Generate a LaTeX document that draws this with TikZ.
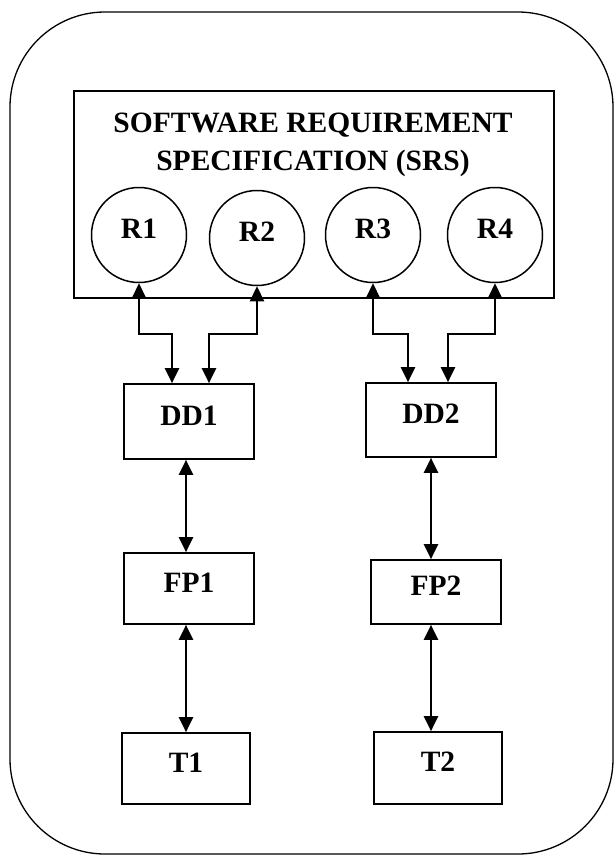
\documentclass[tikz,border=0pt]{standalone}
\usepackage{fontspec}
\setmainfont{Liberation Serif}
\usetikzlibrary{arrows.meta,calc}

\begin{document}
\begin{tikzpicture}[x=1pt, y=-1pt, >={Triangle[length=15pt,width=14pt]},
    every node/.style={font=\fontsize{29.5}{38}\selectfont\bfseries, inner sep=0pt},
    stage/.style={draw, line width=1.7pt, minimum width=130pt, text depth=12pt},
    req/.style={draw, circle, line width=1.5pt, minimum size=95pt, text depth=12pt},
    link/.style={<->, line width=2.2pt}]
  \useasboundingbox (0,0) rectangle (615,855);

  % 1. outer frame
  \draw[line width=1.3pt, rounded corners=95pt] (10,12) rectangle (613,854);

  % 2. SRS block with the four requirements
  \node[draw, line width=1.7pt, minimum width=480pt, minimum height=207pt] (srs) at (314,194.5) {};
  \node[anchor=north, align=center] (title) at (313,112.5) {SOFTWARE REQUIREMENT\\SPECIFICATION (SRS)};
  \node[req] (r1) at (139,235) {R1};
  \node[req] (r2) at (257,238) {R2};
  \node[req] (r3) at (373,235) {R3};
  \node[req] (r4) at (495,235) {R4};

  % 3. design, program and test boxes
  \node[stage, minimum height=75pt] (dd1) at (189,421.5) {DD1};
  \node[stage, minimum height=74pt] (dd2) at (431,420) {DD2};
  \node[stage, minimum height=71pt] (fp1) at (189,588.5) {FP1};
  \node[stage, minimum height=64pt] (fp2) at (436,592) {FP2};
  \node[stage, minimum width=128pt, minimum height=71pt] (t1) at (186,768.5) {T1};
  \node[stage, minimum width=128pt, minimum height=72pt] (t2) at (438,768) {T2};

  % 4. connectors
  \coordinate (rail) at (0,334);
  \draw[link] (r1.south) -- (r1.south |- rail) -| ($(dd1.north)+(-17,0)$);
  \draw[link] (r2.south) -- (r2.south |- rail) -| ($(dd1.north)+(20,0)$);
  \draw[link] (r3.south) -- (r3.south |- rail) -| ($(dd2.north)+(-23,0)$);
  \draw[link] (r4.south) -- (r4.south |- rail) -| ($(dd2.north)+(17,0)$);
  \draw[link] ($(dd1.south)+(-3,0)$) -- ($(fp1.north)+(-3,0)$);
  \draw[link] ($(fp1.south)+(-3,0)$) -- (t1.north);
  \draw[link] (dd2.south) -- (dd2.south |- fp2.north);
  \draw[link] (dd2.south |- fp2.south) -- (dd2.south |- t2.north);
\end{tikzpicture}
\end{document}
